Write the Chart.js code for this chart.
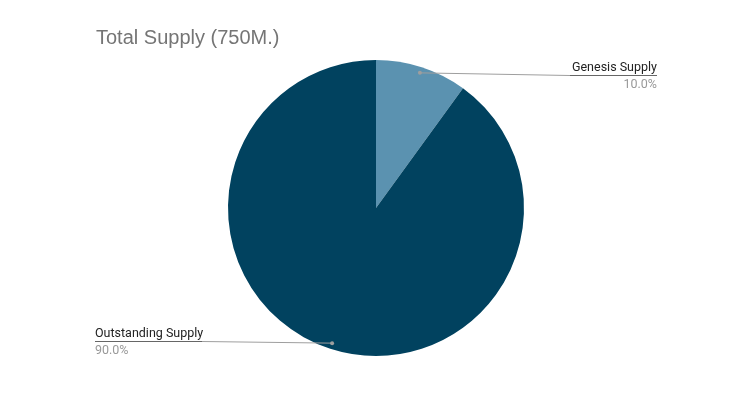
<!DOCTYPE html>
<html>
<head>
<meta charset="utf-8">
<script src="https://cdn.jsdelivr.net/npm/chart.js@4"></script>
<style>
  html, body { margin: 0; padding: 0; background: #fff; }
  #wrap { width: 756px; height: 399px; position: relative; }
</style>
</head>
<body>
<div id="wrap"><canvas id="supplyChart" width="756" height="399"></canvas></div>
<script>
const labels = ['Genesis Supply', 'Outstanding Supply'];
const values = [75, 675];
const colors = ['#5b92b0', '#01425f'];
const chartTitle = 'Total Supply (750M.)';

// draws the title and the leader-line labels next to each slice
const calloutPlugin = {
    id: 'callouts',
    afterDraw(chart) {
        const ctx = chart.ctx;
        ctx.save();
        ctx.font = '20px "Liberation Sans", Arial, sans-serif';
        ctx.fillStyle = '#757575';
        ctx.textBaseline = 'alphabetic';
        ctx.textAlign = 'left';
        ctx.fillText(chartTitle, 96, 44);

        const meta = chart.getDatasetMeta(0);
        const total = values.reduce((a, b) => a + b, 0);
        meta.data.forEach((arc, i) => {
            const mid = (arc.startAngle + arc.endAngle) / 2;
            const r = arc.outerRadius * 0.96;
            const dx = arc.x + Math.cos(mid) * r;
            const dy = arc.y + Math.sin(mid) * r;
            const right = Math.cos(mid) >= 0;
            const lineY = right ? 75 : 341;
            const endX = right ? 657 : 95;
            const kneeX = right ? 570 : 202;

            ctx.strokeStyle = '#9e9e9e';
            ctx.lineWidth = 1;
            ctx.beginPath();
            ctx.moveTo(dx, dy);
            ctx.lineTo(kneeX, lineY + 0.5);
            ctx.stroke();
            ctx.strokeStyle = '#666';
            ctx.beginPath();
            ctx.moveTo(kneeX, lineY + 0.5);
            ctx.lineTo(endX, lineY + 0.5);
            ctx.stroke();

            ctx.fillStyle = '#9e9e9e';
            ctx.beginPath();
            ctx.arc(dx, dy, 2, 0, Math.PI * 2);
            ctx.fill();

            ctx.textAlign = right ? 'right' : 'left';
            ctx.font = '12.5px Roboto, sans-serif';
            ctx.fillStyle = '#222';
            ctx.fillText(labels[i], endX, lineY - 4);
            ctx.fillStyle = '#999';
            ctx.fillText((values[i] / total * 100).toFixed(1) + '%', endX, lineY + 13);
        });
        ctx.restore();
    }
};

new Chart(document.getElementById('supplyChart'), {
    type: 'pie',
    data: {
        labels: labels,
        datasets: [{
            data: values,
            backgroundColor: colors,
            borderWidth: 0
        }]
    },
    options: {
        responsive: false,
        animation: false,
        layout: { padding: { top: 60, bottom: 43, left: 0, right: 4 } },
        plugins: {
            legend: { display: false },
            tooltip: { enabled: false }
        }
    },
    plugins: [calloutPlugin]
});
</script>
</body>
</html>
